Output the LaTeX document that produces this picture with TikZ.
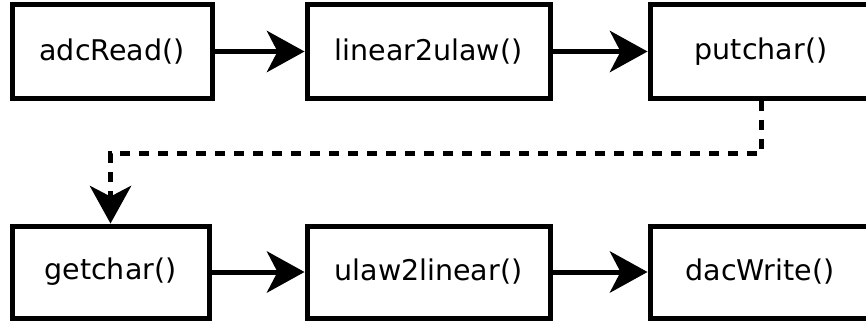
\documentclass[tikz,border=0pt]{standalone}
\usepackage{fontspec}
\setmainfont{DejaVu Sans}
\usetikzlibrary{arrows.meta}
\begin{document}
\begin{tikzpicture}[x=1pt,y=-1pt,
  fn/.style={draw, line width=5pt, inner sep=0pt, minimum height=93pt,
    font=\fontsize{28.5}{31}\selectfont},
  flow/.style={line width=5pt,
    -{Stealth[length=38pt,width=42pt,inset=11pt,line width=0pt]}},
  link/.style={flow, dash pattern=on 10pt off 9pt}]
\useasboundingbox (0,0) rectangle (866,321);
\node[fn, minimum width=200pt] (adc) at (112,51.5) {adcRead()};
\node[fn, minimum width=243pt] (l2u) at (428.5,51.5) {linear2ulaw()};
\node[fn, minimum width=222pt] (put) at (761,51.5) {putchar()};
\node[fn, minimum width=197pt, minimum height=92pt] (get) at (110.5,272) {getchar()};
\node[fn, minimum width=243pt, minimum height=92pt] (u2l) at (428.5,272) {ulaw2linear()};
\node[fn, minimum width=220pt, minimum height=92pt] (dac) at (760,272) {dacWrite()};
\draw[flow] (adc) -- (l2u);
\draw[flow] (l2u) -- (put);
\draw[flow] (get) -- (u2l);
\draw[flow] (u2l) -- (dac);
\draw[link] (put.south) -- ++(0,53) -| (get.north);
\end{tikzpicture}
\end{document}
